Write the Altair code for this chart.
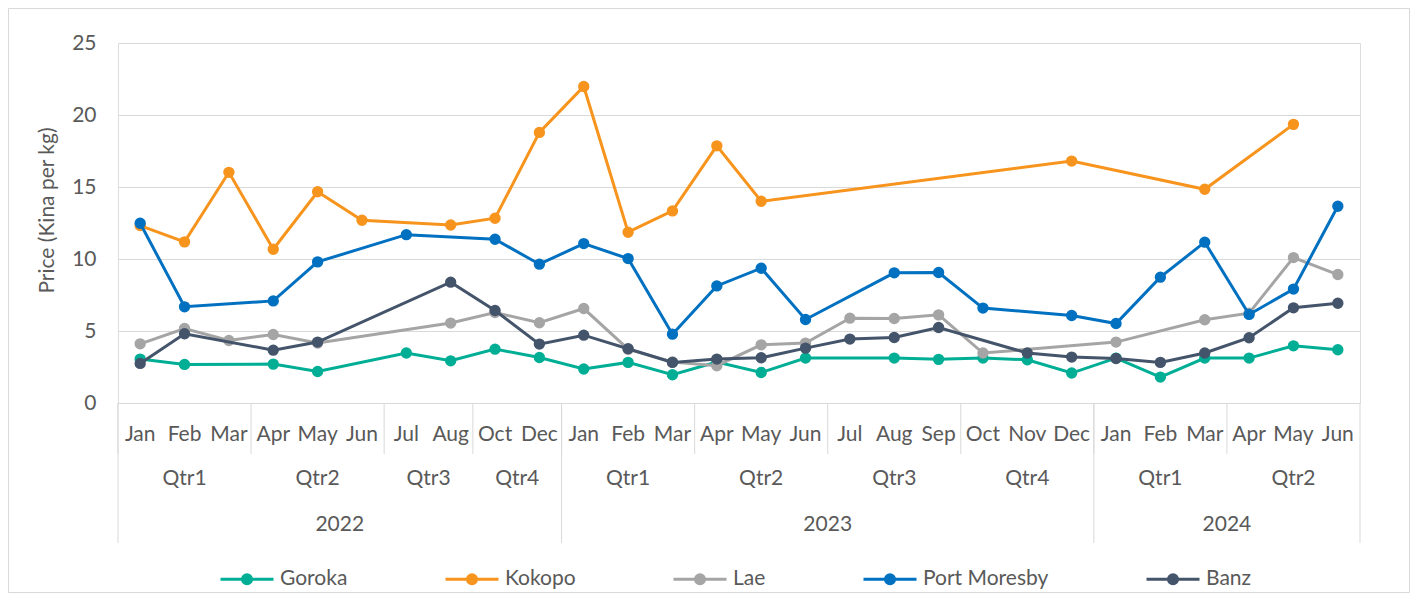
import altair as alt
import pandas as pd

# ---- category axis (three levels) ----
months = ["Jan", "Feb", "Mar", "Apr", "May", "Jun", "Jul", "Aug", "Oct", "Dec",
          "Jan", "Feb", "Mar", "Apr", "May", "Jun", "Jul", "Aug", "Sep", "Oct", "Nov", "Dec",
          "Jan", "Feb", "Mar", "Apr", "May", "Jun"]
quarters = ["Qtr1", "Qtr1", "Qtr1", "Qtr2", "Qtr2", "Qtr2", "Qtr3", "Qtr3", "Qtr4", "Qtr4",
            "Qtr1", "Qtr1", "Qtr1", "Qtr2", "Qtr2", "Qtr2", "Qtr3", "Qtr3", "Qtr3", "Qtr4", "Qtr4", "Qtr4",
            "Qtr1", "Qtr1", "Qtr1", "Qtr2", "Qtr2", "Qtr2"]
years = ["2022"] * 10 + ["2023"] * 12 + ["2024"] * 6

# ---- series values (Kina per kg); None = no observation ----
series_names = ["Goroka", "Kokopo", "Lae", "Port Moresby", "Banz"]
series_colors = ["#00AE95", "#F7941D", "#A5A5A5", "#0070C0", "#44546A"]

goroka = [3.05, 2.68, None, 2.70, 2.19, None, 3.47, 2.93, 3.74, 3.16,
          2.36, 2.82, 1.96, 2.85, 2.12, 3.12, None, 3.12, 3.03, 3.12, 3.00, 2.08,
          3.12, 1.80, 3.12, 3.12, 3.97, 3.70]
kokopo = [12.32, 11.19, 16.02, 10.68, 14.67, 12.69, None, 12.36, 12.83, 18.79,
          21.98, 11.86, 13.34, 17.86, 14.01, None, None, None, None, None, None, 16.80,
          None, None, 14.84, None, 19.35, None]
lae = [4.11, 5.17, 4.34, 4.76, 4.16, None, None, 5.55, 6.28, 5.57,
       6.56, 3.74, 2.85, 2.59, 4.04, 4.16, 5.89, 5.87, 6.12, 3.47, None, None,
       4.23, None, 5.78, 6.24, 10.10, 8.92]
port_moresby = [12.48, 6.68, None, 7.09, 9.80, None, 11.69, None, 11.37, 9.64,
                11.07, 10.03, 4.78, 8.13, 9.36, 5.80, None, 9.04, 9.06, 6.59, None, 6.08,
                5.52, 8.74, 11.17, 6.15, 7.91, 13.66]
banz = [2.75, 4.81, None, 3.67, 4.23, None, None, 8.39, 6.42, 4.09,
        4.71, 3.77, 2.82, 3.05, 3.14, 3.81, 4.44, 4.55, 5.24, None, 3.47, 3.19,
        3.09, 2.82, 3.47, 4.53, 6.61, 6.93]

y_ticks = [0, 5, 10, 15, 20, 25]

# ---- tables ----
cat = pd.DataFrame({"idx": list(range(len(months))), "month": months,
                    "quarter": quarters, "year": years})
cat["qkey"] = cat["year"] + cat["quarter"]

rows = []
for name, vals in zip(series_names, [goroka, kokopo, lae, port_moresby, banz]):
    for i, v in enumerate(vals):
        if v is not None:
            rows.append({"idx": i, "series": name, "value": v})
df = pd.DataFrame(rows)

FONT = "Lato"
TXT = "#595959"
GRID = "#D9D9D9"
W, H = 1242, 360
PAD = {"left": 110, "top": 35, "right": 50, "bottom": 190}
FS = 21

xscale = alt.Scale(domain=[-0.5, len(months) - 0.5], nice=False, zero=False)
cscale = alt.Scale(domain=series_names, range=series_colors)

r = 0.17
legend_path = (f"M-1,0H1M-{r},0A{r},{r},0,1,1,{r},0A{r},{r},0,1,1,-{r},0Z")
leg = alt.Legend(orient="none", legendX=101, legendY=508, direction="horizontal",
                 symbolType=legend_path, symbolSize=2809, symbolStrokeWidth=3,
                 labelFont=FONT, labelFontSize=FS, labelColor=TXT,
                 columnPadding=91, labelOffset=5, title=None)

yaxis = alt.Axis(values=y_ticks, grid=True, gridColor=GRID, gridWidth=1,
                 domain=False, ticks=False, labelFont=FONT, labelFontSize=FS,
                 labelColor=TXT, labelPadding=22,
                 title="Price (Kina per kg)", titleFont=FONT, titleFontSize=FS,
                 titleFontWeight="normal", titleColor=TXT, titleAngle=-90,
                 titleX=-71, titleY=167, titleAlign="center", titleBaseline="middle")

one = pd.DataFrame({"k": [0]})
border = alt.Chart(one).mark_rect(fill="transparent", stroke=GRID, strokeWidth=1).encode(
    x=alt.value(-PAD["left"] + 0.5), x2=alt.value(W + PAD["right"] - 0.5),
    y=alt.value(-PAD["top"] + 0.5), y2=alt.value(H + PAD["bottom"] - 0.5))

base_cat = alt.Chart(cat)

qsep = base_cat.transform_aggregate(start="min(idx)", groupby=["qkey"]).transform_calculate(
    bx="datum.start - 0.5").mark_rule(color=GRID, strokeWidth=1).encode(
    x=alt.X("bx:Q", scale=xscale, axis=None), y=alt.value(H), y2=alt.value(454 - 43))
ysep = base_cat.transform_aggregate(start="min(idx)", groupby=["year"]).transform_calculate(
    bx="datum.start - 0.5").mark_rule(color=GRID, strokeWidth=1).encode(
    x=alt.X("bx:Q", scale=xscale, axis=None), y=alt.value(H), y2=alt.value(500))
yend = base_cat.transform_aggregate(end="max(idx)").transform_calculate(
    bx="datum.end + 0.5").mark_rule(color=GRID, strokeWidth=1).encode(
    x=alt.X("bx:Q", scale=xscale, axis=None), y=alt.value(H), y2=alt.value(500))

mtext = base_cat.mark_text(font=FONT, fontSize=FS, color=TXT, baseline="middle").encode(
    x=alt.X("idx:Q", scale=xscale, axis=None), y=alt.value(392), text="month:N")
qtext = base_cat.transform_aggregate(c="mean(idx)", groupby=["qkey", "quarter"]).mark_text(
    font=FONT, fontSize=FS, color=TXT, baseline="middle").encode(
    x=alt.X("c:Q", scale=xscale, axis=None), y=alt.value(436), text="quarter:N")
ytext = base_cat.transform_aggregate(c="mean(idx)", groupby=["year"]).mark_text(
    font=FONT, fontSize=FS, color=TXT, baseline="middle").encode(
    x=alt.X("c:Q", scale=xscale, axis=None), y=alt.value(482), text="year:N")

layers = [border, qsep, ysep, yend, mtext, qtext, ytext]
for name in series_names:
    sub = alt.Chart(df).transform_filter(alt.datum.series == name)
    ln = sub.mark_line(strokeWidth=3).encode(
        x=alt.X("idx:Q", scale=xscale, axis=None),
        y=alt.Y("value:Q", scale=alt.Scale(domain=[0, 25], nice=False), axis=yaxis),
        stroke=alt.Stroke("series:N", scale=cscale, legend=leg))
    pt = sub.mark_circle(size=70, strokeWidth=3, opacity=1).encode(
        x=alt.X("idx:Q", scale=xscale, axis=None),
        y=alt.Y("value:Q", scale=alt.Scale(domain=[0, 25], nice=False), axis=yaxis),
        stroke=alt.Stroke("series:N", scale=cscale, legend=leg),
        fill=alt.Fill("series:N", scale=cscale, legend=leg))
    layers += [ln, pt]

chart = alt.layer(*layers).properties(
    width=W, height=H, autosize=alt.AutoSizeParams(type="none"), padding=PAD
).configure_view(stroke=None).configure(background="white")

chart.save("out.html", embed_options={"renderer": "svg", "actions": False})
